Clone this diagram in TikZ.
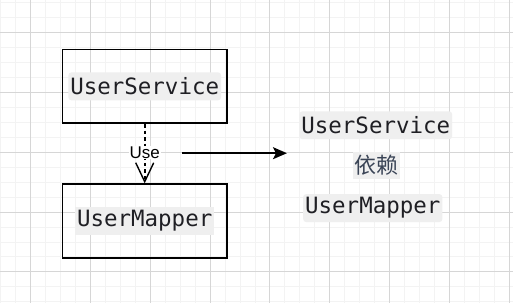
\documentclass[tikz,border=0pt]{standalone}
\usepackage{fontspec}
\setmainfont{Liberation Sans}
\newfontfamily\codefont{DejaVu Sans Mono}
\newfontfamily\cjk{Noto Sans CJK SC}
\usetikzlibrary{arrows.meta}
\definecolor{codebg}{HTML}{EFEFEF}
\definecolor{codefg}{HTML}{1F1F24}
\definecolor{cjkfg}{HTML}{3A4456}
\definecolor{gridminor}{HTML}{F3F3F3}
\definecolor{gridmajor}{HTML}{D6D6D6}
\tikzset{
  classbox/.style={
    draw=black,
    line width=1.6pt,
    minimum width=165pt,
    minimum height=74pt,
    inner sep=0pt
  },
  codetext/.style={
    fill=codebg,
    text=codefg,
    rounded corners=3pt,
    inner xsep=2pt,
    minimum height=28pt,
    font=\codefont\fontsize{22.5}{25}\selectfont
  },
  cjktext/.style={
    fill=codebg,
    text=cjkfg,
    inner xsep=1.5pt,
    minimum height=25pt,
    font=\cjk\fontsize{22}{25}\selectfont
  },
  uses/.style={
    -{Straight Barb[length=19pt, width=18pt, line width=1.4pt]},
    dash pattern=on 3.5pt off 3pt,
    line width=1.6pt
  },
  uselabel/.style={
    fill=white,
    inner sep=1pt,
    font=\fontsize{17}{19}\selectfont
  },
  flow/.style={
    -{Stealth[length=14pt, width=12pt, inset=3pt]},
    line width=1.6pt
  }
}

\begin{document}
\begin{tikzpicture}[x=1pt, y=-1pt]

  %% ---- background grid ----
  \fill[white] (0,0) rectangle (513,303);
  \foreach \gx in {0,15,...,510}
    \draw[gridminor, line width=1pt] (\gx,0) -- (\gx,303);
  \foreach \gy in {2,17,...,302}
    \draw[gridminor, line width=1pt] (0,\gy) -- (513,\gy);
  \foreach \gx in {30,90,...,510}
    \draw[gridmajor, line width=1pt] (\gx,0) -- (\gx,303);
  \foreach \gy in {32,92,...,272}
    \draw[gridmajor, line width=1pt] (0,\gy) -- (513,\gy);
  \useasboundingbox (0,0) rectangle (513,303);

  %% ---- classes ----
  \node[classbox] (service) at (144.5,86) {};
  \node[codetext] (servicename) at (service.center) {UserService};
  \node[classbox] (mapper) at (144.5,221) {};
  \node[codetext, rounded corners=0pt] (mappername) at (mapper.center) {UserMapper};

  %% ---- dependency ----
  \draw[uses] (service) -- (mapper)
    node[uselabel, pos=0.48] (use) {Use};

  %% ---- meaning ----
  \coordinate (from) at (182,153);
  \coordinate (to) at (287,153);
  \draw[flow] (from) -- (to);

  \node[codetext] (svctext) at (376,125) {UserService};
  \node[cjktext] (dep) at (377,165) {依赖};
  \node[codetext] (maptext) at (373,208) {UserMapper};

\end{tikzpicture}
\end{document}
